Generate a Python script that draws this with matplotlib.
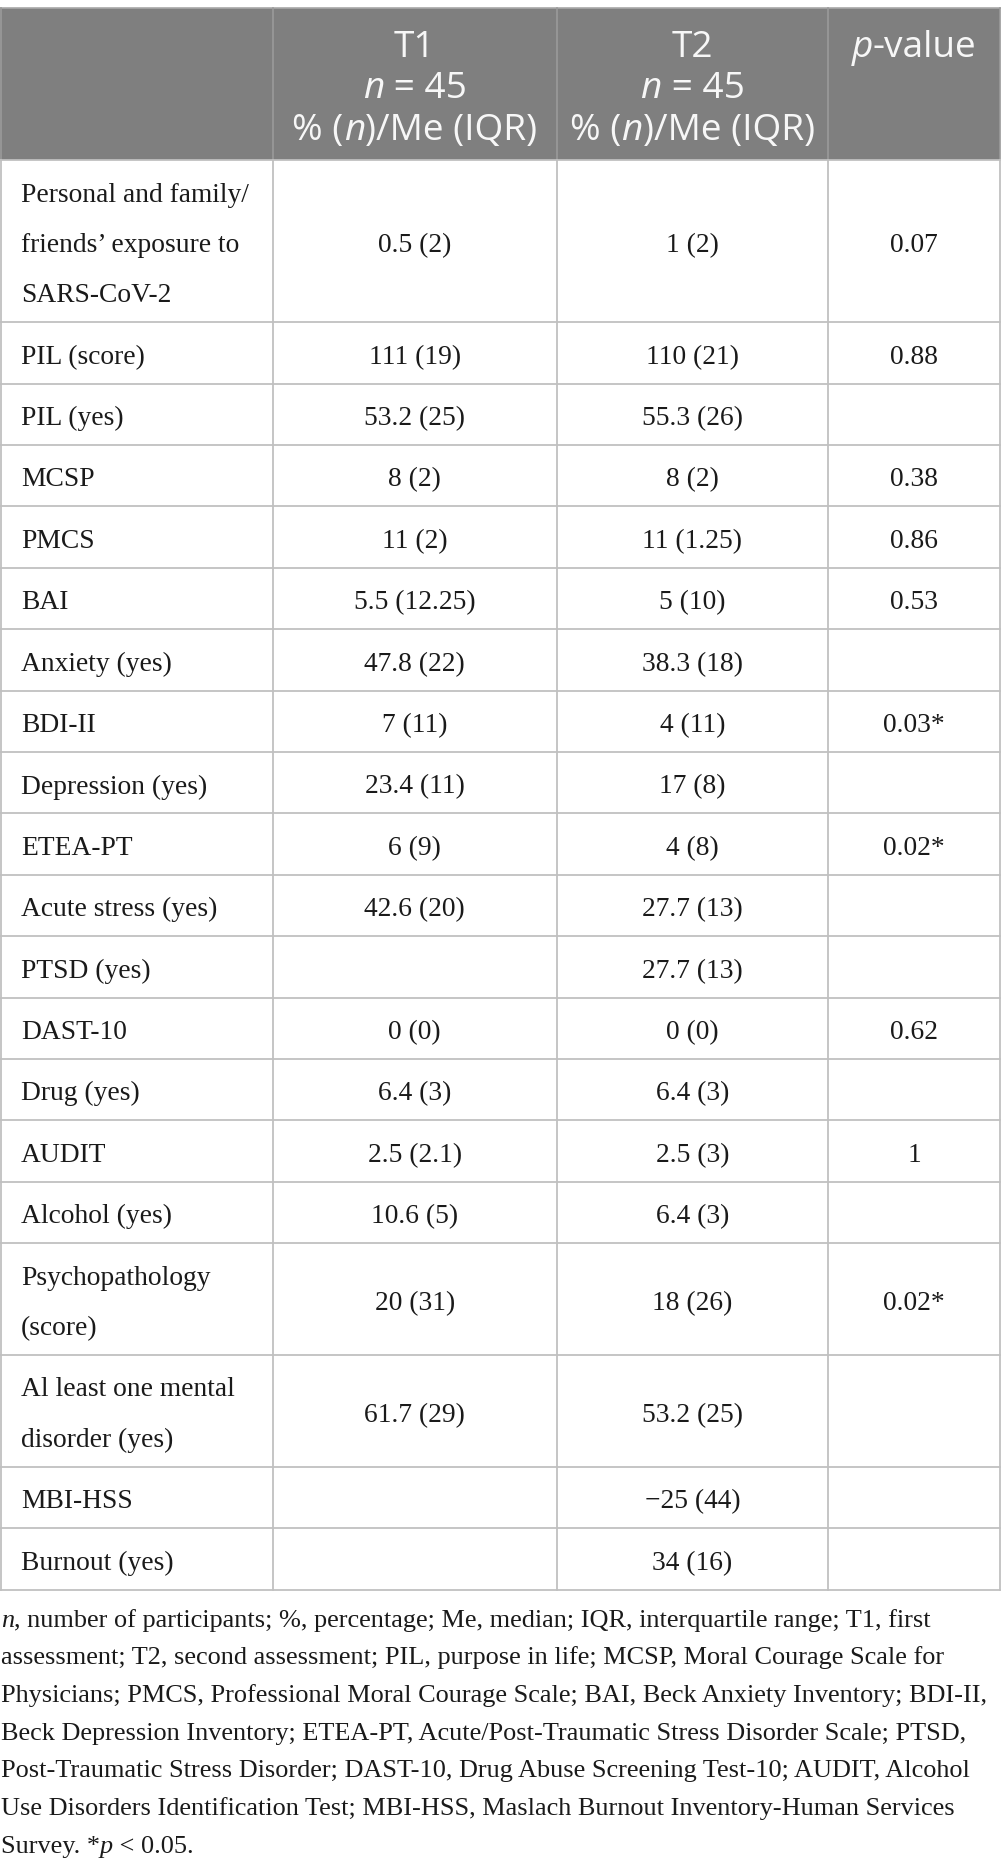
import matplotlib
matplotlib.use("Agg")
import matplotlib.pyplot as plt
from matplotlib.patches import Rectangle

# ---------------- data ----------------
row_labels = [
    "Personal and family/\nfriends\u2019 exposure to\nSARS-CoV-2",
    "PIL (score)", "PIL (yes)", "MCSP", "PMCS", "BAI", "Anxiety (yes)",
    "BDI-II", "Depression (yes)", "ETEA-PT", "Acute stress (yes)",
    "PTSD (yes)", "DAST-10", "Drug (yes)", "AUDIT", "Alcohol (yes)",
    "Psychopathology\n(score)", "Al least one mental\ndisorder (yes)",
    "MBI-HSS", "Burnout (yes)",
]
t1_values = ["0.5 (2)", "111 (19)", "53.2 (25)", "8 (2)", "11 (2)", "5.5 (12.25)",
             "47.8 (22)", "7 (11)", "23.4 (11)", "6 (9)", "42.6 (20)", "",
             "0 (0)", "6.4 (3)", "2.5 (2.1)", "10.6 (5)", "20 (31)", "61.7 (29)",
             "", ""]
t2_values = ["1 (2)", "110 (21)", "55.3 (26)", "8 (2)", "11 (1.25)", "5 (10)",
             "38.3 (18)", "4 (11)", "17 (8)", "4 (8)", "27.7 (13)", "27.7 (13)",
             "0 (0)", "6.4 (3)", "2.5 (3)", "6.4 (3)", "18 (26)", "53.2 (25)",
             "\u221225 (44)", "34 (16)"]
p_values = ["0.07", "0.88", "", "0.38", "0.86", "0.53", "", "0.03*", "", "0.02*",
            "", "", "0.62", "", "1", "", "0.02*", "", "", ""]

header_t1 = [[("T1", "normal")], [("n", "italic"), (" = 45", "normal")],
             [("% (", "normal"), ("n", "italic"), (")/Me (IQR)", "normal")]]
header_t2 = [[("T2", "normal")], [("n", "italic"), (" = 45", "normal")],
             [("% (", "normal"), ("n", "italic"), (")/Me (IQR)", "normal")]]
header_p = [[("p", "italic"), ("-value", "normal")]]

footnote_lines = [
    [("n", "italic"), (", number of participants; %, percentage; Me, median; IQR, interquartile range; T1, first", "normal")],
    [("assessment; T2, second assessment; PIL, purpose in life; MCSP, Moral Courage Scale for", "normal")],
    [("Physicians; PMCS, Professional Moral Courage Scale; BAI, Beck Anxiety Inventory; BDI-II,", "normal")],
    [("Beck Depression Inventory; ETEA-PT, Acute/Post-Traumatic Stress Disorder Scale; PTSD,", "normal")],
    [("Post-Traumatic Stress Disorder; DAST-10, Drug Abuse Screening Test-10; AUDIT, Alcohol", "normal")],
    [("Use Disorders Identification Test; MBI-HSS, Maslach Burnout Inventory-Human Services", "normal")],
    [("Survey. *", "normal"), ("p", "italic"), (" < 0.05.", "normal")],
]

# ---------------- layout ----------------
W, H = 1001, 1873
PX = 0.72  # px -> pt at dpi 100
fig = plt.figure(figsize=(W / 100, H / 100), dpi=100)
ax = fig.add_axes([0, 0, 1, 1])
ax.set_xlim(0, W)
ax.set_ylim(H, 0)
ax.axis("off")
renderer = fig.canvas.get_renderer()

col_x = [0.5, 272.5, 557, 828, 1000]
header_top, header_bot = 8, 160
base_h, line_h = 61.4, 50.4

SERIF = ["Liberation Serif", "DejaVu Serif"]
SANS = ["Open Sans", "DejaVu Sans"]
serif_size = 27.5 * PX
sans_size = 37 * PX
foot_size = 26.2 * PX
text_col = "#1a1a1a"
grid_col = "#c0c0c0"
head_bg = "#7f7f7f"
head_txt = "#f7f7f7"


def draw_runs(x, y, runs, ha, size, family, color):
    objs, widths = [], []
    for s, st in runs:
        t = ax.text(0, y, s, fontsize=size, family=family, style=st, color=color,
                    va="baseline", ha="left")
        widths.append(t.get_window_extent(renderer).width)
        objs.append(t)
    total = sum(widths)
    start = x - total / 2 if ha == "center" else x
    for t, w in zip(objs, widths):
        t.set_x(start)
        start += w


# header background
ax.add_patch(Rectangle((0, header_top), 1000, header_bot - header_top,
                       facecolor=head_bg, edgecolor="none", zorder=0))
ax.plot([0, 1000], [header_top, header_top], color="#a8a8a8", lw=1.2, zorder=1)
for xv in col_x:
    ax.plot([xv, xv], [header_top, header_bot], color="#9a9a9a", lw=1.2, zorder=1)

# header text
head_base = [56.5, 98, 139.5]
for ci, lines in [(1, header_t1), (2, header_t2), (3, header_p)]:
    cx = (col_x[ci] + col_x[ci + 1]) / 2
    for li, runs in enumerate(lines):
        draw_runs(cx, head_base[li], runs, "center", sans_size, SANS, head_txt)

# rows
y = header_bot
bounds = [y]
for i, lab in enumerate(row_labels):
    n = lab.count("\n") + 1
    h = base_h + (n - 1) * line_h
    cy = y + h / 2
    for li, part in enumerate(lab.split("\n")):
        by = cy + (li - (n - 1) / 2) * line_h + 10.8
        ax.text(21, by, part, fontsize=serif_size, family=SERIF, color=text_col,
                va="baseline", ha="left")
    for ci, vals in [(1, t1_values), (2, t2_values), (3, p_values)]:
        if vals[i]:
            cx = (col_x[ci] + col_x[ci + 1]) / 2
            ax.text(cx, cy + 10.8, vals[i], fontsize=serif_size, family=SERIF,
                    color=text_col, va="baseline", ha="center")
    y += h
    bounds.append(y)

# grid
for b in bounds:
    ax.plot([0, 1000], [b, b], color=grid_col, lw=1.3, zorder=1)
for xv in col_x:
    ax.plot([xv, xv], [header_bot, bounds[-1]], color=grid_col, lw=1.3, zorder=1)

# footnote
fb = bounds[-1] + 37
for li, runs in enumerate(footnote_lines):
    draw_runs(1, fb + li * 37.7, runs, "left", foot_size, SERIF, text_col)

fig.savefig("out.png", dpi=100, facecolor="white")
